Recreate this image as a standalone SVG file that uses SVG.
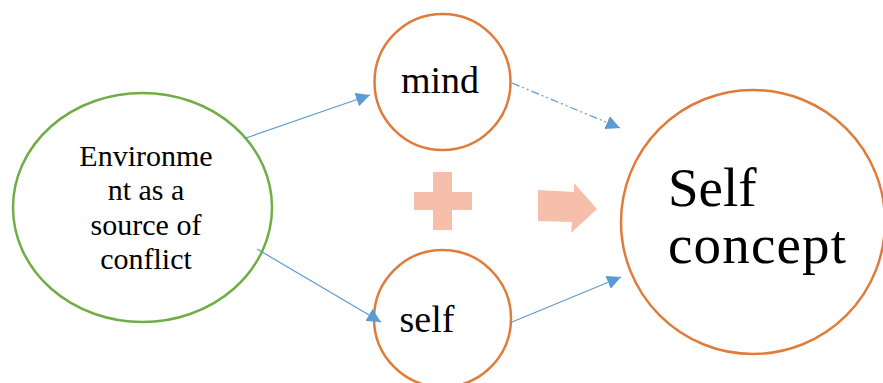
<svg xmlns="http://www.w3.org/2000/svg" width="883" height="383" viewBox="0 0 883 383">
<style>
.orange{fill:#fff;stroke:#E07B39;stroke-width:2.5}
.green{fill:#fff;stroke:#70AD47;stroke-width:2.5}
.t{font-family:"Liberation Serif","Times New Roman",serif;fill:#000;text-anchor:middle}
.c{fill:none;stroke:#5B9BD5;stroke-width:1.2}
.deco{fill:#F5BFAC}
</style>
<defs>
<marker id="ah" viewBox="0 0 10 10" refX="10" refY="5" markerWidth="14" markerHeight="14" markerUnits="userSpaceOnUse" orient="auto">
<path d="M0,0 L10,5 L0,10 Z" fill="#5B9BD5"/>
</marker>
</defs>
<g id="environment">
<ellipse class="green" cx="142.5" cy="207.5" rx="129.5" ry="114.5"/>
<text class="t" font-size="30"><tspan x="146" y="166">Environme</tspan><tspan x="146" y="200">nt as a</tspan><tspan x="146" y="235">source of</tspan><tspan x="146" y="269">conflict</tspan></text>
</g>
<g id="mind">
<circle class="orange" cx="442.5" cy="82" r="68"/>
<text class="t" x="440" y="93" font-size="38">mind</text>
</g>
<g id="self">
<circle class="orange" cx="442.5" cy="318.5" r="68.5"/>
<text class="t" x="427" y="332" font-size="38">self</text>
</g>
<g id="selfconcept">
<circle class="orange" cx="753" cy="222" r="132"/>
<text font-family="Liberation Serif, Times New Roman, serif" font-size="55" fill="#000"><tspan x="668" y="206">Self</tspan><tspan x="668" y="263" textLength="178">concept</tspan></text>
</g>
<g id="plus">
<path class="deco" d="M433,172 H452 V192 H472 V210 H452 V230 H433 V210 H414 V192 H433 Z"/>
</g>
<g id="blockarrow">
<polygon class="deco" points="538,190 574,192 574,183 597,209 571,233 572,222 538,221"/>
</g>
<g id="connectors">
<line class="c" x1="246" y1="138" x2="370" y2="95" marker-end="url(#ah)"/>
<line class="c" x1="512" y1="83" x2="620" y2="128" stroke-dasharray="8,3,2,3,2,3" marker-end="url(#ah)"/>
<line class="c" x1="257" y1="249" x2="381" y2="322" marker-end="url(#ah)"/>
<line class="c" x1="512" y1="322" x2="621" y2="277" marker-end="url(#ah)"/>
</g>
</svg>
